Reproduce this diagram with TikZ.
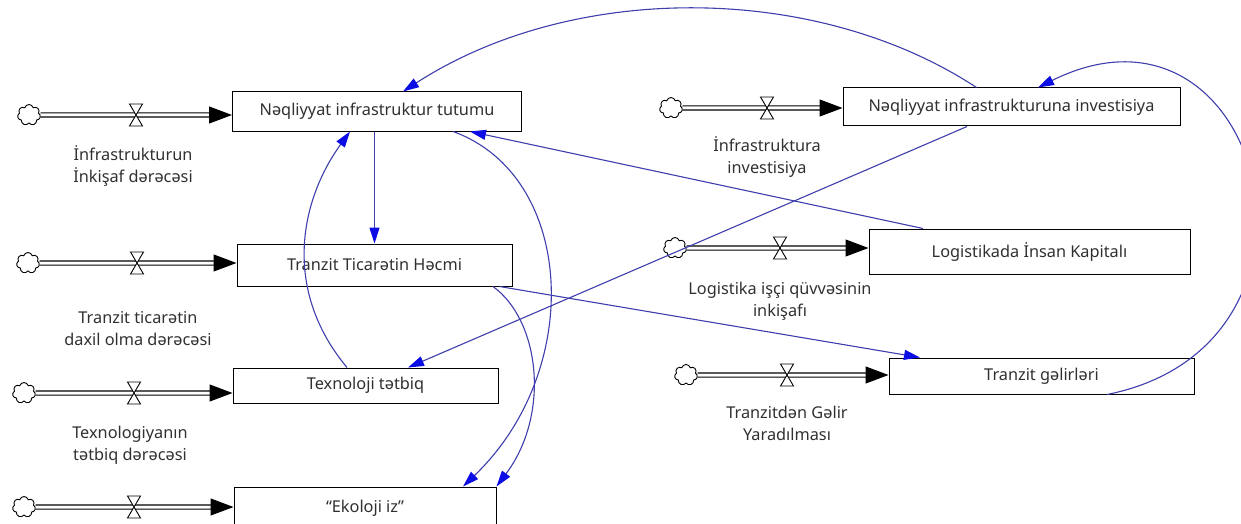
\documentclass[tikz,border=0pt]{standalone}
\usepackage{fontspec}
\setmainfont{Noto Sans}
\usetikzlibrary{arrows.meta,calc,shapes.symbols}

\definecolor{linkblue}{RGB}{62,62,172}
\definecolor{tipblue}{RGB}{12,12,228}
\definecolor{txtgray}{RGB}{48,48,48}

\tikzset{
    stock/.style={draw, line width=1pt, fill=white, minimum height=39pt,
        inner sep=0pt, text=txtgray, font=\fontsize{16.3}{22}\selectfont},
    rate/.style={align=center, inner sep=0pt, text=txtgray,
        font=\fontsize{16.3}{22}\selectfont},
    source/.style={cloud, cloud puffs=7, cloud ignores aspect, draw,
        line width=0.9pt, minimum width=23pt, minimum height=21pt, inner sep=0pt},
    pipe/.style={double, double distance=3pt, line width=1.1pt,
        -{Triangle[length=23pt,width=17pt]}},
    valve/.style={draw, fill=white, line width=0.9pt},
    link/.style={linkblue, line width=1.1pt,
        -{Triangle[length=16pt,width=10pt,tipblue]}}
}

\begin{document}
\begin{tikzpicture}[x=1pt,y=-1pt]
    \useasboundingbox (0,0) rectangle (1241,524);
    \clip (0,0) rectangle (1241,524);

    % stocks
    \node[stock, minimum width=289pt] (tutum) at (377,111.5) {Nəqliyyat infrastruktur tutumu};
    \node[stock, minimum width=275pt, minimum height=42pt] (hecm) at (374.5,265) {Tranzit Ticarətin Həcmi};
    \node[stock, minimum width=265pt, minimum height=35pt] (texn) at (365.5,385.5) {Texnoloji tətbiq};
    \node[stock, minimum width=262pt, minimum height=42pt] (ekol) at (365,508) {“Ekoloji iz”};
    \node[stock, minimum width=337pt, minimum height=38pt] (invest) at (1011.5,107) {Nəqliyyat infrastrukturuna investisiya};
    \node[stock, minimum width=321pt, minimum height=45pt] (kapital) at (1029.5,251.5) {Logistikada İnsan Kapitalı};
    \node[stock, minimum width=305pt, minimum height=36pt] (gelir) at (1041.5,376) {Tranzit gəlirləri};

    % sources and valves
    \node[source] (s1) at (29,115) {};
    \node[source] (s2) at (28,263) {};
    \node[source] (s3) at (24,393) {};
    \node[source] (s4) at (24,507) {};
    \node[source] (s5) at (671,108) {};
    \node[source] (s6) at (675,248) {};
    \node[source] (s7) at (686,375) {};

    \coordinate (v1) at (136,115);
    \coordinate (v2) at (137,263);
    \coordinate (v3) at (134,393);
    \coordinate (v4) at (134,507);
    \coordinate (v5) at (767,108);
    \coordinate (v6) at (780,248);
    \coordinate (v7) at (787,375);

    % flows
    \draw[pipe] (s1) -- (s1 -| tutum.west);
    \draw[pipe] (s2) -- (s2 -| hecm.west);
    \draw[pipe] (s3) -- (s3 -| texn.west);
    \draw[pipe] (s4) -- (s4 -| ekol.west);
    \draw[pipe] (s5) -- (s5 -| invest.west);
    \draw[pipe] (s6) -- (s6 -| kapital.west);
    \draw[pipe] (s7) -- (s7 -| gelir.west);

    \draw[valve] (v1) +(-6.5,-11) -- +(6.5,-11) -- +(-6.5,11) -- +(6.5,11) -- cycle;
    \draw[valve] (v2) +(-6.5,-11) -- +(6.5,-11) -- +(-6.5,11) -- +(6.5,11) -- cycle;
    \draw[valve] (v3) +(-6.5,-11) -- +(6.5,-11) -- +(-6.5,11) -- +(6.5,11) -- cycle;
    \draw[valve] (v4) +(-6.5,-11) -- +(6.5,-11) -- +(-6.5,11) -- +(6.5,11) -- cycle;
    \draw[valve] (v5) +(-6.5,-11) -- +(6.5,-11) -- +(-6.5,11) -- +(6.5,11) -- cycle;
    \draw[valve] (v6) +(-6.5,-11) -- +(6.5,-11) -- +(-6.5,11) -- +(6.5,11) -- cycle;
    \draw[valve] (v7) +(-6.5,-11) -- +(6.5,-11) -- +(-6.5,11) -- +(6.5,11) -- cycle;

    % rate names
    \node[rate] (r1) at (133,166) {İnfrastrukturun\\İnkişaf dərəcəsi};
    \node[rate] (r2) at (138,329) {Tranzit ticarətin\\daxil olma dərəcəsi};
    \node[rate] (r3) at (130,445) {Texnologiyanın\\tətbiq dərəcəsi};
    \node[rate] (r5) at (767,157) {İnfrastruktura\\investisiya};
    \node[rate] (r6) at (780,301) {Logistika işçi qüvvəsinin\\inkişafı};
    \node[rate] (r7) at (787,423) {Tranzitdən Gəlir\\Yaradılması};

    % links
    \draw[link] ($(invest.north)+(-35,0)$) .. controls +(-160,-105) and +(170,-110) .. ($(tutum.north)+(26,0)$);
    \draw[link] ($(gelir.south)+(65.5,0)$) .. controls +(250,-50) and +(225,-112) .. ($(invest.north)+(26.5,0)$);
    \draw[link] ($(invest.south)+(-44.5,0)$) -- ($(texn.north)+(42.5,0)$);
    \draw[link] ($(kapital.north)+(-106.5,0)$) -- ($(tutum.south)+(93,0)$);
    \draw[link] (tutum.south -| hecm.north) -- (hecm.north);
    \draw[link] ($(texn.north)+(-18.5,0)$) .. controls +(-65,-78) and +(-50,69) .. ($(tutum.south)+(-27,0)$);
    \draw[link] ($(tutum.south)+(76,0)$) .. controls +(122,44) and +(122,-117) .. ($(ekol.north)+(98,0)$);
    \draw[link] ($(hecm.south)+(118.5,0)$) .. controls +(47,34) and +(54,-72) .. (ekol.north east);
    \draw[link] ($(hecm.south)+(125,0)$) -- ($(gelir.north)+(-121.5,0)$);
\end{tikzpicture}
\end{document}
